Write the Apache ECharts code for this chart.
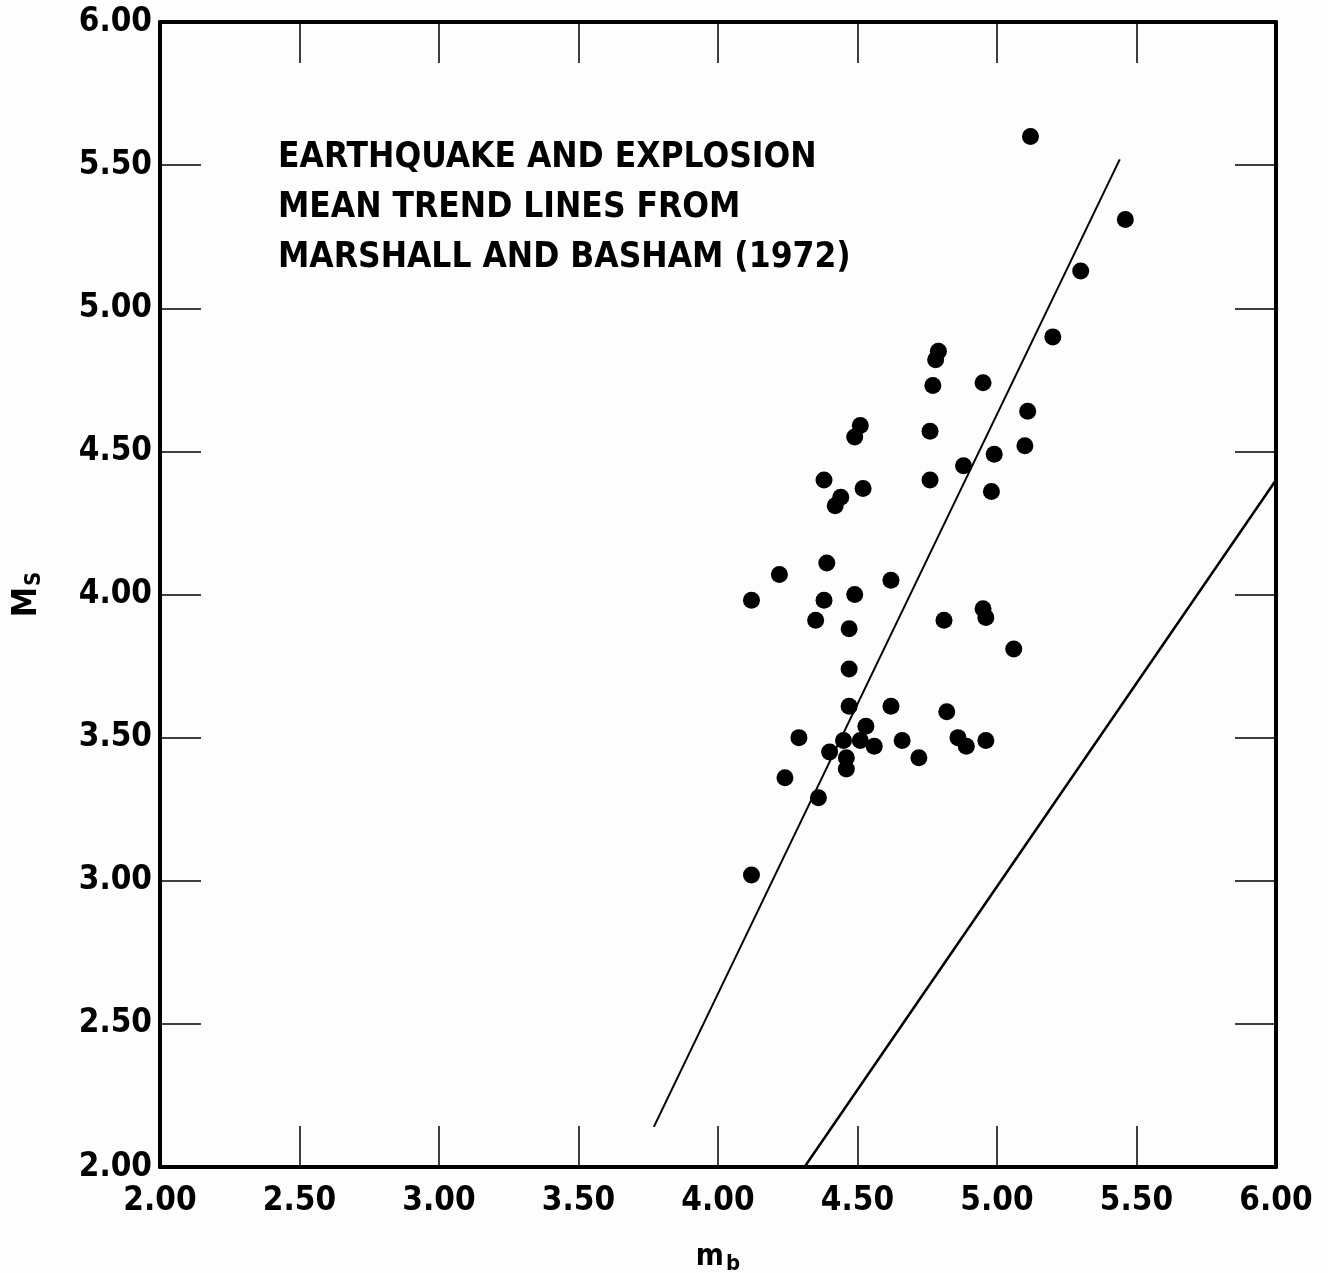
<!DOCTYPE html>
<html>
<head>
<meta charset="utf-8">
<script src="https://cdn.jsdelivr.net/npm/echarts@6/dist/echarts.min.js"></script>
<style>
html,body{margin:0;padding:0;background:#fdfdfd;}
#chart{width:1328px;height:1273px;}
</style>
</head>
<body>
<div id="chart"></div>
<script>
// Data
const mbValues = [5.12,5.46,5.30,5.20,4.79,4.78,4.77,4.95,4.76,5.11,5.10,4.51,4.49,4.76,4.88,4.99,4.98,4.38,4.44,4.42,4.52,4.39,4.22,4.12,4.38,4.49,4.62,4.35,4.47,4.81,4.95,4.96,5.06,4.47,4.47,4.62,4.82,4.29,4.53,4.45,4.51,4.56,4.66,4.40,4.46,4.46,4.72,4.86,4.89,4.96,4.24,4.36,4.12];
const msValues = [5.60,5.31,5.13,4.90,4.85,4.82,4.73,4.74,4.57,4.64,4.52,4.59,4.55,4.40,4.45,4.49,4.36,4.40,4.34,4.31,4.37,4.11,4.07,3.98,3.98,4.00,4.05,3.91,3.88,3.91,3.95,3.92,3.81,3.74,3.61,3.61,3.59,3.50,3.54,3.49,3.49,3.47,3.49,3.45,3.43,3.39,3.43,3.50,3.47,3.49,3.36,3.29,3.02];
// Mean trend lines (Marshall and Basham, 1972): endpoints [mb, Ms]
const earthquakeLine = [[3.77,2.14],[5.44,5.52]];
const explosionLine = [[4.31,2.00],[6.00,4.40]];
const tickLabels = ['2.00','2.50','3.00','3.50','4.00','4.50','5.00','5.50','6.00'];
const annotation = ['EARTHQUAKE AND EXPLOSION','MEAN TREND LINES FROM','MARSHALL AND BASHAM (1972)'];

const FONT = "'DejaVu Sans Condensed','Liberation Sans Narrow','DejaVu Sans',sans-serif";
const points = mbValues.map((v,i)=>[v,msValues[i]]);
const fmt = v => v.toFixed(2);

const chart = echarts.init(document.getElementById('chart'), null, {renderer:'canvas'});
const axisCommon = {
  min:2, max:6, interval:0.5,
  axisLine:{show:true, lineStyle:{color:'#000', width:4}},
  axisTick:{show:true, inside:true, length:41, lineStyle:{color:'#000', width:1.5}},
  splitLine:{show:false}
};
chart.setOption({
  backgroundColor:'#fdfdfd',
  animation:false,
  title:{
    text: annotation.join('\n'),
    left:273, top:128,
    textStyle:{fontFamily:FONT, fontWeight:'bold', fontSize:35, color:'#000', lineHeight:50}
  },
  grid:{left:160, right:52, top:22, bottom:106, containLabel:false, outerBoundsMode:'none'},
  xAxis:[
    Object.assign({}, axisCommon, {
      type:'value', position:'bottom',
      name:'{a|m}{b|b}', nameLocation:'middle', nameGap:72,
      nameTextStyle:{rich:{
        a:{fontFamily:FONT, fontWeight:'bold', fontSize:30, color:'#000'},
        b:{fontFamily:FONT, fontWeight:'bold', fontSize:22, color:'#000', padding:[14,0,0,2]}
      }},
      axisLabel:{show:true, margin:18, fontFamily:FONT, fontWeight:'bold', fontSize:33, color:'#000',
        formatter:v=>fmt(v)}
    }),
    Object.assign({}, axisCommon, {type:'value', position:'top', axisLabel:{show:false}})
  ],
  yAxis:[
    Object.assign({}, axisCommon, {
      type:'value', position:'left',
      name:'{a|M}{b|S}', nameLocation:'middle', nameGap:115, nameRotate:90,
      nameTextStyle:{rich:{
        a:{fontFamily:FONT, fontWeight:'bold', fontSize:34, color:'#000'},
        b:{fontFamily:FONT, fontWeight:'bold', fontSize:22, color:'#000', padding:[14,0,0,1]}
      }},
      axisLabel:{show:true, margin:8, fontFamily:FONT, fontWeight:'bold', fontSize:33, color:'#000',
        formatter:v=>fmt(v)}
    }),
    Object.assign({}, axisCommon, {type:'value', position:'right', axisLabel:{show:false}})
  ],
  series:[
    {type:'line', xAxisIndex:0, yAxisIndex:0, data:earthquakeLine, symbol:'none',
      lineStyle:{color:'#000', width:2}, z:3},
    {type:'line', xAxisIndex:0, yAxisIndex:0, data:explosionLine, symbol:'none',
      lineStyle:{color:'#000', width:2.5}, z:3},
    {type:'scatter', xAxisIndex:0, yAxisIndex:0, data:points, symbol:'circle', symbolSize:17,
      itemStyle:{color:'#000', opacity:1}, z:4}
  ]
});
</script>
</body>
</html>
